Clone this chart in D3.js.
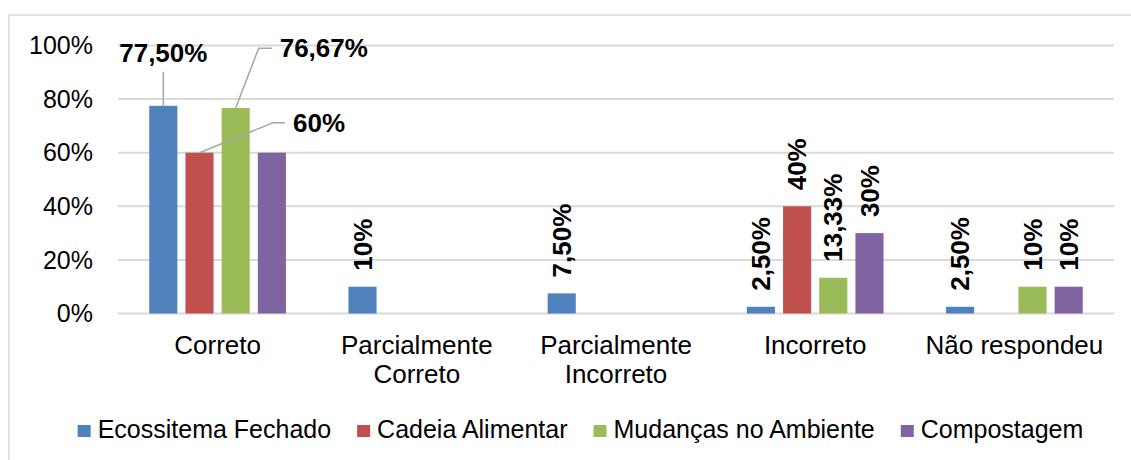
<!DOCTYPE html>
<html>
<head>
<meta charset="utf-8">
<script src="https://cdn.jsdelivr.net/npm/d3@7"></script>
<style>
  html, body { margin: 0; padding: 0; background: #fff; }
  svg { display: block; font-family: "Liberation Sans", Arial, sans-serif; }
</style>
</head>
<body>
<div id="chart"></div>
<script>
const categories = [["Correto"], ["Parcialmente", "Correto"], ["Parcialmente", "Incorreto"], ["Incorreto"], ["Não respondeu"]];
const seriesNames = ["Ecossitema Fechado", "Cadeia Alimentar", "Mudanças no Ambiente", "Compostagem"];
const colors = ["#4F81BD", "#C0504D", "#9BBB59", "#8064A2"];
const ecossistemaFechado = [77.5, 10, 7.5, 2.5, 2.5];
const cadeiaAlimentar = [60, 0, 0, 40, 0];
const mudancasAmbiente = [76.67, 0, 0, 13.33, 10];
const compostagem = [60, 0, 0, 30, 10];
const yTicks = [0, 20, 40, 60, 80, 100];

const values = [ecossistemaFechado, cadeiaAlimentar, mudancasAmbiente, compostagem];

const width = 1131, height = 460;
const svg = d3.select('#chart').append('svg')
    .attr('width', width)
    .attr('height', height);

// outer chart border (cut by the picture on right and bottom)
svg.append('rect')
    .attr('x', 9).attr('y', 15)
    .attr('width', 1140).attr('height', 460)
    .attr('fill', 'none')
    .attr('stroke', '#d9d9d9')
    .attr('stroke-width', 1.5);

const catKeys = categories.map(c => c.join(' '));
const x0 = d3.scaleBand().domain(catKeys).range([118, 1114]);
const bw = x0.bandwidth();
const x1 = d3.scaleBand().domain(seriesNames)
    .range([bw * 0.157, bw * 0.843])
    .paddingInner(0.224);
const y = d3.scaleLinear().domain([0, 100]).range([313.5, 45.5]);

// gridlines
svg.append('g').selectAll('line')
    .data(yTicks)
    .join('line')
    .attr('x1', 118).attr('x2', 1114)
    .attr('y1', d => y(d)).attr('y2', d => y(d))
    .attr('stroke', '#d9d9d9')
    .attr('stroke-width', 2);

// y tick labels
svg.append('g').selectAll('text')
    .data(yTicks)
    .join('text')
    .attr('x', 93)
    .attr('y', d => y(d))
    .attr('dy', '0.35em')
    .attr('text-anchor', 'end')
    .attr('font-size', 25)
    .attr('fill', '#000')
    .text(d => d + '%');

// bars
const rows = [];
seriesNames.forEach((s, si) => {
    values[si].forEach((v, ci) => rows.push({ s, si, ci, v, cat: catKeys[ci] }));
});

svg.append('g').selectAll('rect')
    .data(rows)
    .join('rect')
    .attr('x', d => x0(d.cat) + x1(d.s))
    .attr('y', d => y(d.v))
    .attr('width', x1.bandwidth())
    .attr('height', d => y(0) - y(d.v))
    .attr('fill', d => colors[d.si]);

const fmt = v => (Number.isInteger(v) ? String(v) : v.toFixed(2).replace('.', ',')) + '%';
const cx = d => x0(d.cat) + x1(d.s) + x1.bandwidth() / 2;

// rotated labels above bars (categories after the first)
const labelG = svg.append('g');
labelG.selectAll('text')
    .data(rows.filter(d => d.ci > 0 && d.v > 0))
    .join('text')
    .attr('transform', d => `translate(${cx(d)},${y(d.v) - 16}) rotate(-90)`)
    .attr('dy', '0.35em')
    .attr('text-anchor', 'start')
    .attr('font-size', 26)
    .attr('font-weight', 'bold')
    .text(d => fmt(d.v));

// Correto labels with leader lines
const lead = svg.append('g');
const leaderColor = '#a6a6a6';
const blue = rows.find(d => d.ci === 0 && d.si === 0);
const red = rows.find(d => d.ci === 0 && d.si === 1);
const green = rows.find(d => d.ci === 0 && d.si === 2);

lead.append('path')
    .attr('d', `M${cx(blue)},${y(blue.v)} V${y(blue.v) - 34}`)
    .attr('stroke', leaderColor).attr('stroke-width', 1.5).attr('fill', 'none');
lead.append('text')
    .attr('x', cx(blue)).attr('y', y(blue.v) - 44)
    .attr('text-anchor', 'middle')
    .attr('font-size', 26).attr('font-weight', 'bold')
    .text(fmt(blue.v));

const gy = y(99);
lead.append('path')
    .attr('d', `M${cx(green)},${y(green.v)} L${cx(green) + 23},${gy} H${cx(green) + 36}`)
    .attr('stroke', leaderColor).attr('stroke-width', 1.5).attr('fill', 'none');
lead.append('text')
    .attr('x', cx(green) + 44).attr('y', gy)
    .attr('dy', '0.35em')
    .attr('font-size', 26).attr('font-weight', 'bold')
    .text(fmt(green.v));

const ry = y(71.2);
lead.append('path')
    .attr('d', `M${cx(red)},${y(red.v)} L${cx(red) + 73.5},${ry} H${cx(red) + 85.5}`)
    .attr('stroke', leaderColor).attr('stroke-width', 1.5).attr('fill', 'none');
lead.append('text')
    .attr('x', cx(red) + 93.5).attr('y', ry)
    .attr('dy', '0.35em')
    .attr('font-size', 26).attr('font-weight', 'bold')
    .text(fmt(red.v));

// category labels
const catG = svg.append('g');
categories.forEach((lines, i) => {
    const t = catG.append('text')
        .attr('x', x0(catKeys[i]) + bw / 2)
        .attr('y', 354)
        .attr('text-anchor', 'middle')
        .attr('font-size', 26);
    lines.forEach((l, j) => {
        t.append('tspan')
            .attr('x', x0(catKeys[i]) + bw / 2)
            .attr('dy', j === 0 ? 0 : 29)
            .text(l);
    });
});

// legend
const legend = svg.append('g');
let lx = 0;
seriesNames.forEach((s, i) => {
    const g = legend.append('g').attr('transform', `translate(${lx},0)`);
    g.append('rect')
        .attr('x', 0).attr('y', -13)
        .attr('width', 13).attr('height', 12)
        .attr('fill', colors[i]);
    const t = g.append('text')
        .attr('x', 20).attr('y', 0)
        .attr('font-size', 25)
        .text(s);
    lx += 20 + t.node().getComputedTextLength() + 26;
});
const legW = lx - 26;
legend.attr('transform', `translate(${580.5 - legW / 2},438)`);
</script>
</body>
</html>
